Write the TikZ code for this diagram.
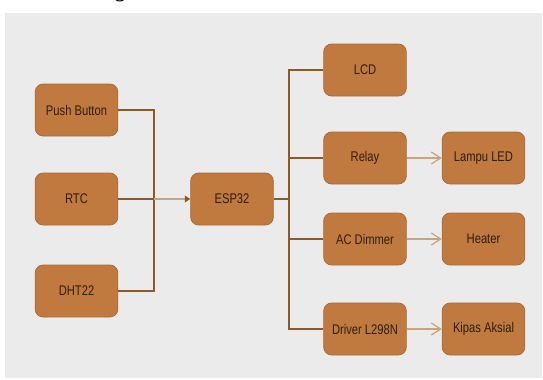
\documentclass[tikz,border=0pt]{standalone}
\usepackage{fontspec}
\usepackage{xcolor}
\newfontfamily\boxfont{Liberation Sans}[FakeStretch=0.8]
\newfontfamily\headfont{Liberation Serif}
\definecolor{panelgray}{RGB}{235, 235, 235}
\definecolor{blockfill}{RGB}{192, 122, 64}
\definecolor{blockedge}{RGB}{170, 108, 52}
\definecolor{blocktext}{RGB}{48, 30, 14}
\definecolor{wirebrown}{RGB}{140, 90, 42}
\definecolor{linktan}{RGB}{200, 164, 124}
\usetikzlibrary{arrows.meta}

\tikzset{
    block/.style={draw=blockedge, fill=blockfill, rounded corners=6pt, line width=0.6pt,
        minimum width=62pt, minimum height=39pt, text=blocktext,
        font=\boxfont\fontsize{10.5}{12}\selectfont},
    wire/.style={draw=wirebrown, line width=0.9pt},
    feed/.style={draw=linktan, line width=0.9pt, -{Triangle[length=4pt, width=5pt, wirebrown]}},
    link/.style={draw=linktan, line width=0.9pt, -{Straight Barb[length=7pt, width=9pt]}}
}

\begin{document}
\begin{tikzpicture}[x=0.75pt, y=-0.75pt]
    \useasboundingbox (0,0) rectangle (543,379);
    \fill[panelgray] (5,13) rectangle (542,378);
    \begin{scope}
        \clip (0,0) rectangle (543,379);
        \node[anchor=base, font=\headfont\bfseries\fontsize{15}{18}\selectfont] (heading) at (120,-3) {g};
    \end{scope}

    % inputs
    \node[block] (push) at (76.5,110) {Push Button};
    \node[block] (rtc) at (76.5,199) {RTC};
    \node[block] (dht) at (76.5,291) {DHT22};

    \node[block] (esp) at (232,199) {ESP32};

    % outputs
    \node[block] (lcd) at (365,70) {LCD};
    \node[block] (relay) at (365,158) {Relay};
    \node[block] (dimmer) at (365,239) {AC Dimmer};
    \node[block] (driver) at (365,329) {Driver L298N};

    \node[block] (led) at (483.5,158) {Lampu LED};
    \node[block] (heater) at (483.5,239) {Heater};
    \node[block] (fan) at (483.5,329) {Kipas Aksial};

    \coordinate (inbus) at (154,199);
    \coordinate (outbus) at (289,199);

    \draw[wire] (push.east) -| (inbus);
    \draw[wire] (dht.east) -| (inbus);
    \draw[wire] (rtc.east) -- (inbus);
    \draw[feed] (inbus) -- (esp.west);

    \draw[wire] (esp.east) -- (outbus);
    \draw[wire] (outbus) |- (lcd.west);
    \draw[wire] (outbus) |- (relay.west);
    \draw[wire] (outbus) |- (dimmer.west);
    \draw[wire] (outbus) |- (driver.west);

    \draw[link] (relay) -- (led);
    \draw[link] (dimmer) -- (heater);
    \draw[link] (driver) -- (fan);
\end{tikzpicture}
\end{document}
